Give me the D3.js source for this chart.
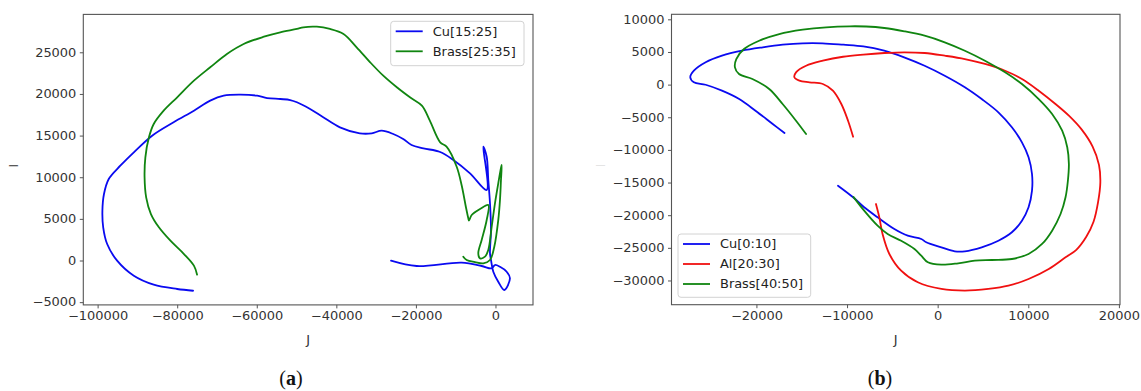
<!DOCTYPE html>
<html>
<head>
<meta charset="utf-8">
<script src="https://cdn.jsdelivr.net/npm/d3@7"></script>
<style>
  html, body { margin: 0; padding: 0; background: #fff; }
  svg { display: block; font-family: "DejaVu Sans", sans-serif; }
</style>
</head>
<body>
<svg id="fig" width="1141" height="391"></svg>
<script>
// ---------- data: [J, I] samples along each trajectory ----------
// panel (a)
const cuA = [
  [-76000,-3630],[-80000,-3420],[-85900,-2900],[-90900,-1830],[-95100,-20],[-97600,1980],
  [-98600,3990],[-98800,5980],[-98400,7990],[-97200,9790],[-94300,11380],[-90900,12990],
  [-86300,14990],[-80900,16600],[-75800,17990],[-71700,19190],[-68300,19790],[-64100,19910],
  [-59900,19790],[-57400,19510],[-54100,19390],[-51600,19270],[-49900,19000],[-46600,18190],
  [-43300,17200],[-39100,15990],[-34100,15270],[-31100,15270],[-28600,15590],[-25700,15190],
  [-23200,14590],[-21100,13870],[-18100,13470],[-13900,13030],[-10600,12070],[-6400,10470],
  [-2200,8470],[-3070,13670],[-2210,12460],[-1810,9670],[-1380,6870],[-1130,3660],
  [-1380,870],[-1130,60],[-550,-1350],[700,-2550],[2210,-3540],[3640,-2140],[2810,-1350],
  [1130,-750],[-130,-540],[-950,-940],[-3470,-660],[-8490,-260],[-19800,-660],[-26260,-20]
];
const brassA = [
  [-75000,-1700],[-75800,-620],[-78300,780],[-81700,2380],[-84600,3990],[-86600,5580],
  [-87800,7590],[-88200,9990],[-88000,12390],[-87100,14790],[-85900,16390],[-83400,17990],
  [-80000,19600],[-75800,21590],[-71700,23200],[-67500,24800],[-63300,26000],[-58200,26870],
  [-54100,27400],[-49900,27800],[-48300,28000],[-44900,28070],[-41600,27800],[-38200,27200],
  [-34900,25600],[-31500,23800],[-28200,22190],[-24800,20800],[-21500,19600],[-18500,18590],
  [-16500,16790],[-13900,14190],[-12300,13670],[-9750,11260],[-8490,9000],[-7450,6460],
  [-6830,5070],[-6660,4800],[-5980,5460],[-3890,6180],[-1810,6660],[-2210,4860],
  [-3470,2460],[-4320,870],[-3890,260],[-2640,460],[-1810,1260],[-950,4060],[-130,6870],
  [700,9270],[1380,11110],[1560,11470],[1380,9670],[1130,7270],[700,4860],[-300,1660],
  [-1380,60],[-3070,-340],[-5150,-180],[-7240,60],[-8090,460]
];
// panel (b)
const cuB = [
  [-16900,-7410],[-18200,-6030],[-20100,-4000],[-21900,-2210],[-23800,-930],[-25600,-20],
  [-26900,350],[-27300,1120],[-26900,2130],[-25600,3420],[-23800,4430],[-21600,5190],
  [-19300,5710],[-17100,6110],[-14900,6330],[-12700,6330],[-10400,6110],[-8200,5850],
  [-5900,5190],[-3700,4180],[-1440,2890],[780,1360],[3000,-410],[4860,-2210],[6700,-4240],
  [8190,-6540],[9300,-8840],[10030,-11130],[10410,-13690],[10410,-16250],[10030,-18790],
  [9300,-20840],[8190,-22620],[6700,-23910],[4860,-24920],[3000,-25530],[1890,-25530],
  [410,-24920],[-1260,-24150],[-1810,-23640],[-3300,-23140],[-4780,-22110],[-6630,-20320],
  [-8110,-18790],[-9330,-17260],[-11000,-15480]
];
const alB = [
  [-9330,-7980],[-9890,-5530],[-10630,-2970],[-11560,-930],[-12670,90],[-14140,350],
  [-15260,600],[-15810,1120],[-15630,1880],[-14520,2890],[-12670,3660],[-10440,4270],
  [-8200,4600],[-5890,4840],[-3670,4950],[-1440,4840],[780,4430],[3000,3920],[5220,3160],
  [7440,2130],[9300,860],[11150,-930],[13000,-2970],[14480,-4760],[15900,-6900],
  [17100,-9500],[17800,-12300],[17950,-15000],[17700,-18000],[17200,-21000],[16400,-23300],
  [15300,-25300],[14110,-26450],[12260,-28240],[10030,-29770],[7810,-30800],[5590,-31300],
  [3000,-31560],[410,-31300],[-2190,-30280],[-4030,-28500],[-5330,-25940],[-6080,-22880],
  [-6440,-20320],[-6810,-18290]
];
const brassB = [
  [-14520,-7570],[-15630,-5530],[-17110,-2970],[-18590,-670],[-20440,860],[-21920,1620],
  [-22370,2650],[-22220,3920],[-21370,5450],[-19700,6720],[-17480,7750],[-14890,8410],
  [-12300,8780],[-9700,8930],[-7900,8900],[-5890,8670],[-3670,8160],[-1440,7490],[780,6480],
  [3000,5190],[5220,3660],[7440,1880],[9300,90],[11150,-2210],[12630,-4500],[13740,-7060],
  [14300,-9600],[14480,-12160],[14370,-14720],[14110,-17260],[13560,-19820],[12630,-22370],
  [11520,-24410],[10030,-25940],[8190,-26710],[5970,-26860],[4110,-26970],[2260,-27370],
  [410,-27580],[-1080,-27210],[-1810,-26200],[-2560,-25180],[-4030,-23910],[-5520,-22880],
  [-6630,-21610],[-8110,-19310],[-9300,-17200]
];

// ---------- axis ticks and labels ----------
const ticksAJ = [-100000, -80000, -60000, -40000, -20000, 0];
const ticksAI = [-5000, 0, 5000, 10000, 15000, 20000, 25000];
const ticksBJ = [-20000, -10000, 0, 10000, 20000];
const ticksBI = [-30000, -25000, -20000, -15000, -10000, -5000, 0, 5000, 10000];
const namesA = ["Cu[15:25]", "Brass[25:35]"];
const namesB = ["Cu[0:10]", "Al[20:30]", "Brass[40:50]"];
const captions = ["a", "b"];
const xLabel = "J", yLabel = "I";

const BLUE = "#0a0af0", RED = "#f01010", GREEN = "#108510";
const FONT = 12, SX = 1.08;          // glyphs drawn slightly wide
const fmt = d3.format("d");
const svg = d3.select("#fig");

function stretched(sel) { sel.attr("transform", `scale(${SX},1)`); }

function drawPanel(cfg) {
  const g = svg.append("g");
  const x = d3.scaleLinear().domain(cfg.xDomain).range([cfg.left, cfg.right]);
  const y = d3.scaleLinear().domain(cfg.yDomain).range([cfg.bottom, cfg.top]);

  const line = d3.line()
    .x(d => x(d[0])).y(d => y(d[1]))
    .curve(d3.curveCatmullRom.alpha(0.5));

  cfg.series.forEach(s => {
    g.append("path")
      .attr("d", line(s.data))
      .attr("fill", "none")
      .attr("stroke", s.color)
      .attr("stroke-width", 1.8)
      .attr("stroke-linejoin", "round")
      .attr("stroke-linecap", "round");
  });

  // axes frame
  g.append("rect")
    .attr("x", cfg.left).attr("y", cfg.top)
    .attr("width", cfg.right - cfg.left).attr("height", cfg.bottom - cfg.top)
    .attr("fill", "none").attr("stroke", "#555").attr("stroke-width", 1.1);

  const xa = g.append("g").attr("transform", `translate(0,${cfg.bottom})`)
    .call(d3.axisBottom(x).tickValues(cfg.xTicks).tickSize(3.5).tickPadding(3.5).tickFormat(fmt));
  const ya = g.append("g").attr("transform", `translate(${cfg.left},0)`)
    .call(d3.axisLeft(y).tickValues(cfg.yTicks).tickSize(3.5).tickPadding(3.5).tickFormat(fmt));
  [xa, ya].forEach(a => {
    a.select(".domain").remove();
    a.attr("font-family", null).attr("font-size", null);
    a.selectAll(".tick line").attr("stroke", "#555").attr("stroke-width", 1);
    a.selectAll(".tick text").attr("fill", "#333").attr("font-size", FONT).call(stretched);
  });
  ya.selectAll(".tick text").attr("x", -7 / SX);

  // axis titles
  const cx = (cfg.left + cfg.right) / 2;
  g.append("g").attr("transform", `translate(${cx},343.5)`)
    .append("text").attr("text-anchor", "middle").attr("font-size", FONT)
    .attr("fill", "#333").text(xLabel).call(stretched);
  g.append("g").attr("transform", `translate(${cfg.yLabelX},${(cfg.top + cfg.bottom) / 2 + 6}) rotate(-90)`)
    .append("text").attr("text-anchor", "middle").attr("font-size", FONT)
    .attr("fill", cfg.yLabelColor).text(yLabel);

  // legend
  const L = cfg.legend;
  const lg = g.append("g").attr("transform", `translate(${L.x},${L.y})`);
  lg.append("rect").attr("width", L.w).attr("height", L.h).attr("rx", 3)
    .attr("fill", "#fff").attr("fill-opacity", 0.85)
    .attr("stroke", "#d2d2d2").attr("stroke-width", 1);
  cfg.series.forEach((s, i) => {
    const ey = 10 + i * 20;
    lg.append("line").attr("x1", 5).attr("x2", 32).attr("y1", ey).attr("y2", ey)
      .attr("stroke", s.color).attr("stroke-width", 1.8);
    lg.append("g").attr("transform", `translate(42,${ey + 4.3})`)
      .append("text").attr("font-size", FONT).attr("fill", "#222").text(s.name).call(stretched);
  });

  // caption
  const cap = svg.append("text")
    .attr("x", cfg.captionX).attr("y", 385)
    .attr("text-anchor", "middle")
    .attr("font-family", "'Liberation Serif', 'DejaVu Serif', serif")
    .attr("font-size", 20).attr("fill", "#111");
  cap.append("tspan").text("(");
  cap.append("tspan").attr("font-weight", "bold").text(cfg.caption);
  cap.append("tspan").text(")");
}

drawPanel({
  left: 83.3, right: 533, top: 14.4, bottom: 304.9,
  xDomain: [-103600, 9430], yDomain: [-5330, 29550],
  xTicks: ticksAJ, yTicks: ticksAI,
  series: [
    { data: cuA, color: BLUE, name: namesA[0] },
    { data: brassA, color: GREEN, name: namesA[1] }
  ],
  legend: { x: 390.7, y: 21.3, w: 133.3, h: 44.4 },
  yLabelX: 18, yLabelColor: "#333",
  caption: captions[0], captionX: 291
});

drawPanel({
  left: 671.5, right: 1120, top: 14.3, bottom: 304.7,
  xDomain: [-29370, 20120], yDomain: [-33710, 10770],
  xTicks: ticksBJ, yTicks: ticksBI,
  series: [
    { data: cuB, color: BLUE, name: namesB[0] },
    { data: alB, color: RED, name: namesB[1] },
    { data: brassB, color: GREEN, name: namesB[2] }
  ],
  legend: { x: 678, y: 234, w: 132.7, h: 63.3 },
  yLabelX: 605, yLabelColor: "#e4e4e4",
  caption: captions[1], captionX: 880
});
</script>
</body>
</html>
